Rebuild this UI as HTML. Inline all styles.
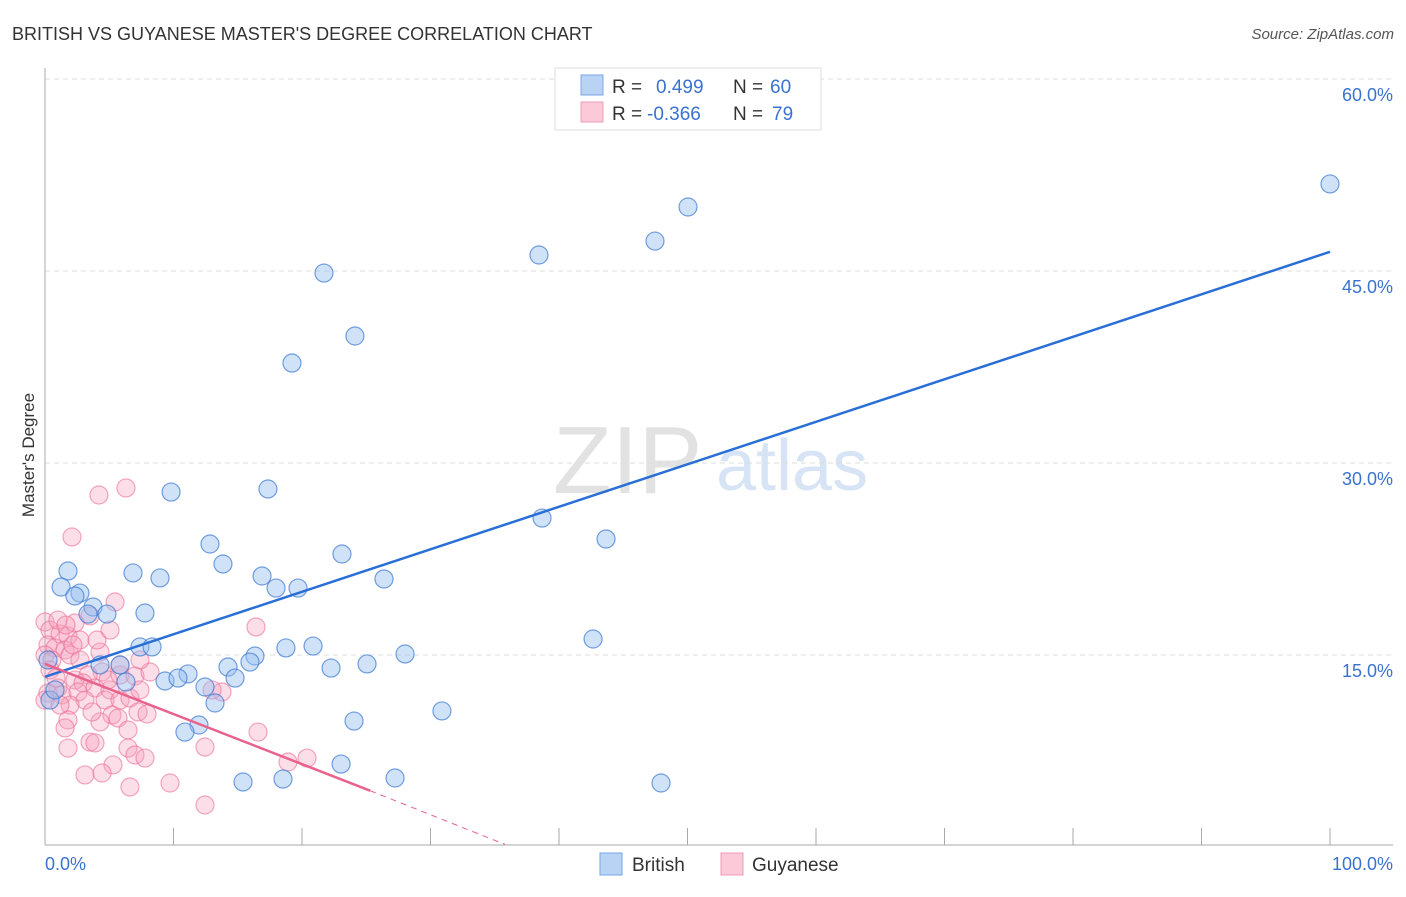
<!DOCTYPE html>
<html><head><meta charset="utf-8"><style>
body{margin:0;background:#fff;font-family:"Liberation Sans",sans-serif;}
svg text{font-family:"Liberation Sans",sans-serif;}
</style></head><body>
<svg width="1406" height="892" viewBox="0 0 1406 892">
<text x="12" y="40" font-size="18" fill="#333">BRITISH VS GUYANESE MASTER'S DEGREE CORRELATION CHART</text>
<text x="1394" y="39" font-size="15" fill="#555" text-anchor="end" font-style="italic">Source: ZipAtlas.com</text>
<text x="553" y="493" font-size="96" fill="#e2e2e2" font-family="Liberation Serif">ZIP</text>
<text x="716" y="490" font-size="72" fill="#d6e4f5">atlas</text>
<g id="grid"></g>
<line x1="45" y1="68" x2="45" y2="845" stroke="#aaa"/>
<line x1="45" y1="845" x2="1393" y2="845" stroke="#aaa"/>
<g id="xticks"></g>
<text x="45" y="870" font-size="18" fill="#3a72d0">0.0%</text>
<text x="1393" y="870" font-size="18" fill="#3a72d0" text-anchor="end">100.0%</text>
<text transform="translate(34,455) rotate(-90)" font-size="17" fill="#333" text-anchor="middle">Master's Degree</text>
<g id="pts"></g>
<g id="lines"></g>
<g>
<rect x="555" y="68" width="266" height="62" fill="#fff" stroke="#ddd"/>
<rect x="581" y="75" width="22" height="20" fill="#b9d3f4" stroke="#7aa6e6"/>
<rect x="581" y="102" width="22" height="20" fill="#fbc9d8" stroke="#f09ab4"/>
<text x="612" y="93" font-size="19" fill="#333">R = <tspan fill="#3a72d0" x="656">0.499</tspan><tspan x="733" fill="#333">N = </tspan><tspan fill="#3a72d0" x="770">60</tspan></text>
<text x="612" y="120" font-size="19" fill="#333">R = <tspan fill="#3a72d0" x="647">-0.366</tspan><tspan x="733" fill="#333">N = </tspan><tspan x="772" fill="#3a72d0">79</tspan></text>
</g>
<g>
<rect x="600" y="853" width="22" height="22" fill="#b9d3f4" stroke="#7aa6e6"/>
<text x="632" y="871" font-size="19" fill="#333">British</text>
<rect x="721" y="853" width="22" height="22" fill="#fbc9d8" stroke="#f09ab4"/>
<text x="752" y="871" font-size="19" fill="#333">Guyanese</text>
</g>
</svg>
<script>
const yTicks=[15,30,45,60];
const yTickLabels=["15.0%","30.0%","45.0%","60.0%"];
const xTicks=[10,20,30,40,50,60,70,80,90,100];
const britishPx=[[1330,184],[688,207],[655,241],[539,255],[324,273],[355,336],[292,363],[171,492],[268,489],[542,518],[606,539],[210,544],[342,554],[223,564],[133,573],[68,571],[160,578],[262,576],[384,579],[276,588],[298,588],[61,587],[80,593],[75,596],[93,607],[145,613],[107,614],[88,614],[593,639],[140,647],[152,647],[313,646],[286,648],[255,656],[250,662],[405,654],[367,664],[331,668],[228,667],[100,665],[120,665],[188,674],[165,681],[178,678],[126,682],[235,678],[205,687],[215,703],[442,711],[354,721],[199,725],[185,732],[341,764],[395,778],[283,779],[243,782],[661,783],[50,700],[55,690],[48,660]];
const guyPx=[[126,488],[99,495],[72,537],[115,602],[90,616],[256,627],[45,622],[50,630],[60,634],[68,636],[75,623],[80,640],[48,645],[55,648],[65,650],[70,655],[100,652],[45,655],[52,660],[102,672],[88,675],[120,675],[135,676],[150,672],[75,680],[83,683],[95,688],[110,690],[58,688],[48,693],[62,695],[78,692],[85,700],[105,700],[120,700],[130,698],[138,712],[147,714],[70,705],[222,692],[212,690],[112,715],[118,718],[100,722],[128,730],[68,720],[65,728],[90,742],[95,743],[258,732],[205,747],[68,748],[128,748],[135,755],[145,758],[113,765],[307,758],[288,762],[85,775],[102,773],[130,787],[170,783],[205,805],[50,670],[56,678],[45,700],[60,705],[92,712],[140,690],[108,680],[80,660],[97,640],[73,645],[110,630],[140,660],[58,620],[66,625],[120,665]];
const britishX=britishPx.map(p=>+((p[0]-45)/12.85).toFixed(2));
const britishY=britishPx.map(p=>+((847-p[1])/12.8).toFixed(2));
const guyX=guyPx.map(p=>+((p[0]-45)/12.85).toFixed(2));
const guyY=guyPx.map(p=>+((847-p[1])/12.8).toFixed(2));
const britishTrend=[[0,13.3],[100,46.5]];
const guyTrend=[[0,14.3],[25.3,4.4],[35.8,0.2]];
const sx=v=>45+v*12.85, sy=v=>847-v*12.8;
const NS="http://www.w3.org/2000/svg";
function mk(t,a,parent){const e=document.createElementNS(NS,t);for(const k in a)e.setAttribute(k,a[k]);parent.appendChild(e);return e;}
const grid=document.getElementById('grid');
yTicks.forEach((v,i)=>{
 const l=mk('line',{x1:45,x2:1393,y1:sy(v),y2:sy(v),stroke:'#ddd','stroke-dasharray':'5,4'},grid);
 
 
 const t=mk('text',{x:1393,y:sy(v)+22,'font-size':18,fill:'#3a72d0','text-anchor':'end'},grid);
 t.textContent=yTickLabels[i];
 
 
});
const xt=document.getElementById('xticks');
xTicks.forEach(v=>{
 const l=mk('line',{x1:sx(v),x2:sx(v),y1:828,y2:845,stroke:'#aaa'},xt);
 
 
});
const pts=document.getElementById('pts');
guyX.forEach((x,i)=>{
 const c=mk('circle',{cx:sx(x),cy:sy(guyY[i]),r:9,fill:'rgba(247,160,188,0.35)',stroke:'rgba(236,110,150,0.6)','stroke-width':1.2},pts);
 
 
});
britishX.forEach((x,i)=>{
 const c=mk('circle',{cx:sx(x),cy:sy(britishY[i]),r:9,fill:'rgba(150,190,240,0.45)',stroke:'rgba(60,120,210,0.7)','stroke-width':1.2},pts);
 
 
});
const lines=document.getElementById('lines');
const bl=mk('line',{x1:sx(britishTrend[0][0]),y1:sy(britishTrend[0][1]),x2:sx(britishTrend[1][0]),y2:sy(britishTrend[1][1]),stroke:'#2a6fd6','stroke-width':2.5},lines);


const gl=mk('line',{x1:sx(guyTrend[0][0]),y1:sy(guyTrend[0][1]),x2:sx(guyTrend[1][0]),y2:sy(guyTrend[1][1]),stroke:'#e8628c','stroke-width':2.5},lines);


const gd=mk('line',{x1:sx(guyTrend[1][0]),y1:sy(guyTrend[1][1]),x2:sx(guyTrend[2][0]),y2:sy(guyTrend[2][1]),stroke:'#e8628c','stroke-width':1,'stroke-dasharray':'6,5'},lines);


</script>
</body></html>
